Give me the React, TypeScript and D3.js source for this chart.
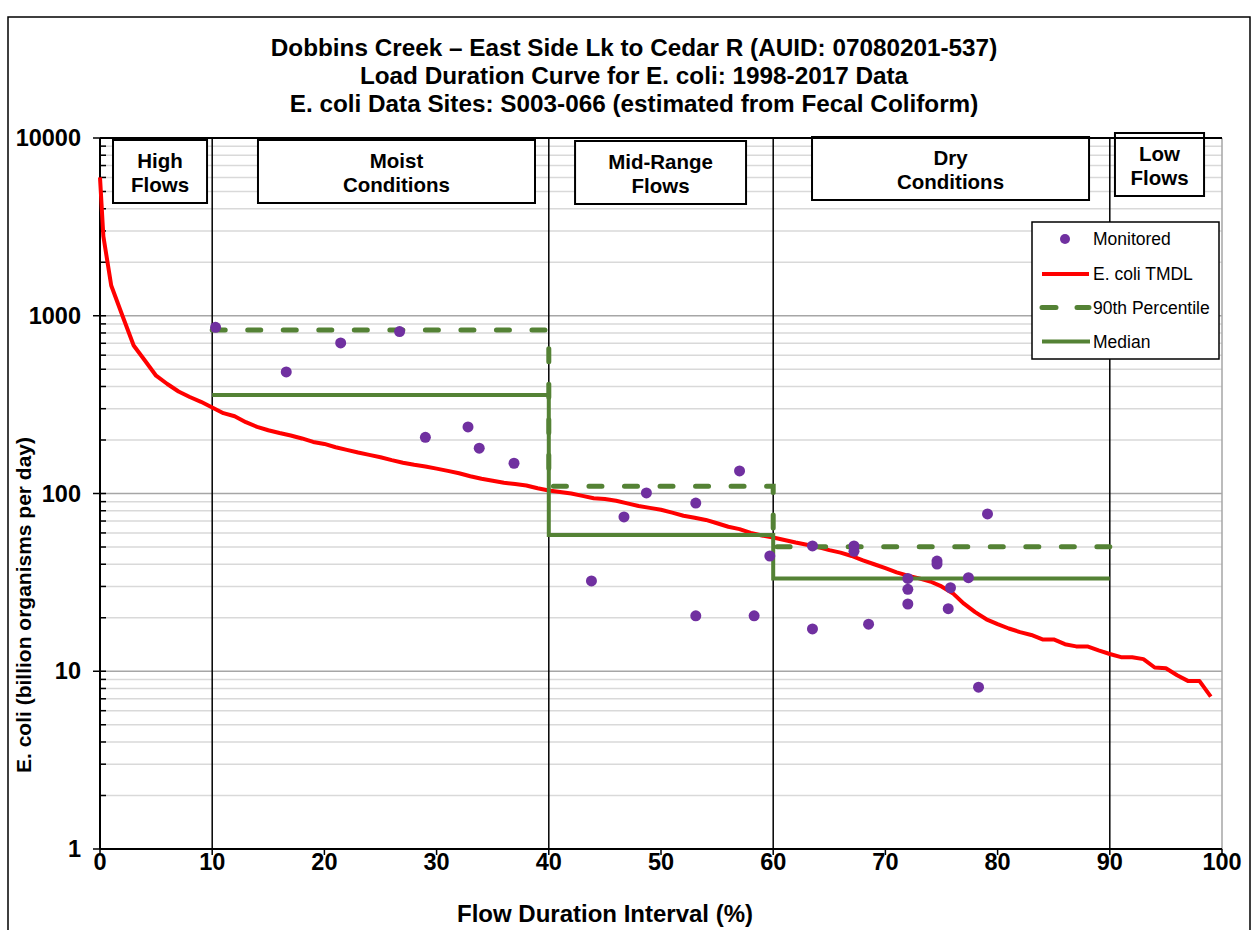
import React from "react";
import * as d3 from "d3";

const TITLE_LINES = [
  "Dobbins Creek \u2013 East Side Lk to Cedar R (AUID: 07080201-537)",
  "Load Duration Curve for E. coli: 1998-2017 Data",
  "E. coli Data Sites: S003-066 (estimated from Fecal Coliform)",
];
const X_LABEL = "Flow Duration Interval (%)";
const Y_LABEL = "E. coli (billion organisms per day)";
const X_TICKS = [0, 10, 20, 30, 40, 50, 60, 70, 80, 90, 100];
const Y_TICKS = [1, 10, 100, 1000, 10000];
const ZONE_LINES = [10, 40, 60, 90];

// TMDL curve
const TMDL_X = [0, 0.3, 1, 2, 3, 4, 5, 6, 7, 8, 9, 10, 11, 12, 13, 14, 15, 16, 17, 18, 19, 20,
  21, 22, 23, 24, 25, 26, 27, 28, 29, 30, 31, 32, 33, 34, 35, 36, 37, 38, 39, 40,
  41, 42, 43, 44, 45, 46, 47, 48, 49, 50, 51, 52, 53, 54, 55, 56, 57, 58, 59, 60,
  61, 62, 63, 64, 65, 66, 67, 68, 69, 70, 71, 72, 73, 74, 75, 76, 77, 78, 79, 80,
  81, 82, 83, 84, 85, 86, 87, 88, 89, 90, 91, 92, 93, 94, 95, 96, 97, 98, 99];
const TMDL_Y = [6000, 2800, 1480, 1000, 680, 560, 460, 413, 375, 349, 328, 305, 283, 272, 252, 237, 227, 219, 212, 204, 195, 190,
  182, 176, 170, 165, 160, 154, 149, 145, 142, 138, 134, 130, 125, 121, 118, 115, 113, 111, 107, 104,
  102, 100, 97, 94, 93, 91, 88, 85, 83, 81, 78, 75, 73, 71, 68, 65, 63, 60, 58, 56.5,
  54.8, 53, 51.5, 50, 48, 46.5, 44.5, 42, 40, 38, 36, 34.5, 33.3, 32, 30, 27.5, 24, 21.5, 19.6, 18.4,
  17.4, 16.6, 16, 15.1, 15.1, 14.2, 13.8, 13.8, 13.1, 12.5, 12.0, 12.0, 11.7, 10.5, 10.4, 9.5, 8.8, 8.8, 7.2];

// Monitored data
const MON_X = [10.3, 16.6, 21.45, 26.7, 29.0, 32.8, 33.8, 36.9,
  43.8, 46.7, 48.7, 53.1, 53.1, 57.0, 58.3, 59.7,
  63.5, 63.5, 67.2, 67.2, 68.5, 72.0, 72.0, 72.0, 74.6, 74.6, 75.8, 75.6, 77.4, 79.1, 78.3];
const MON_Y = [861, 483, 703, 815, 207, 237, 180, 148,
  32.2, 73.8, 100.7, 88.4, 20.5, 134, 20.5, 44.5,
  50.7, 17.3, 50.7, 47.3, 18.4, 33.3, 28.9, 23.9, 41.7, 40.1, 29.5, 22.5, 33.6, 76.7, 8.13];

// Percentile steps per zone
const ZONE_START = [10, 40, 60];
const ZONE_END = [40, 60, 90];
const P90 = [832, 110, 50.2];
const MEDIAN = [358, 58.4, 33.3];

// Zone labels
const ZONE_LABELS = [
  ["High", "Flows"],
  ["Moist", "Conditions"],
  ["Mid-Range", "Flows"],
  ["Dry", "Conditions"],
  ["Low", "Flows"],
];
const ZONE_BOX_X0 = [1.16, 14.08, 42.34, 63.46, 90.46];
const ZONE_BOX_X1 = [9.54, 38.77, 57.58, 88.15, 98.4];
const ZONE_BOX_TOP = [140, 140, 141, 137, 133];
const ZONE_BOX_H = 63;

const LEGEND_LABELS = ["Monitored", "E. coli TMDL", "90th Percentile", "Median"];

const RED = "#FF0000";
const GREEN = "#548235";
const PURPLE = "#7030A0";
const FONT = "Liberation Sans, Arial, sans-serif";

export default function App() {
  const W = 1255, H = 930;
  const x = d3.scaleLinear().domain([0, 100]).range([100, 1222]);
  const y = d3.scaleLog().domain([1, 10000]).range([849, 138]);

  const gridVals: { v: number; major: boolean }[] = [];
  for (const dec of [1, 10, 100, 1000]) {
    for (let m = 1; m <= 9; m++) {
      const v = dec * m;
      if (v === 1) continue;
      gridVals.push({ v, major: m === 1 });
    }
  }

  const line = d3.line<[number, number]>().x(d => x(d[0])).y(d => y(d[1]));
  const tmdlPath = line(TMDL_X.map((v, i) => [v, TMDL_Y[i]] as [number, number]));

  const stepPts = (vals: number[]) => {
    const pts: [number, number][] = [];
    vals.forEach((v, i) => {
      pts.push([ZONE_START[i], v]);
      pts.push([ZONE_END[i], v]);
    });
    return pts;
  };
  const p90Pts = stepPts(P90);
  const p90Path = line(p90Pts);
  const medPath = line(stepPts(MEDIAN));
  // fit the dash period so the last dash ends at the end of the path
  let p90Len = 0;
  for (let i = 1; i < p90Pts.length; i++) {
    p90Len += Math.hypot(x(p90Pts[i][0]) - x(p90Pts[i - 1][0]), y(p90Pts[i][1]) - y(p90Pts[i - 1][1]));
  }
  const dashOn = 13;
  const nPer = Math.round((p90Len - dashOn) / 35);
  const dashOff = (p90Len - dashOn) / nPer - dashOn;

  const legX = 1032, legY = 222, legW = 187, legH = 137;
  const legRowY = [239, 274, 307.5, 341.5];

  return (
    <svg width={W} height={H} style={{ position: "absolute", left: 0, top: 0, background: "#fff" }}
      fontFamily={FONT}>
      <rect x={0} y={0} width={W} height={H} fill="#fff" />
      {/* outer frame */}
      <rect x={8} y={17} width={1242} height={930} fill="none" stroke="#000" strokeWidth={1.5} />

      {/* title */}
      {TITLE_LINES.map((t, i) => (
        <text key={i} x={634} y={47 + i * 28} textAnchor="middle" dominantBaseline="central"
          fontWeight="bold" fontSize={24.3} fill="#000">{t}</text>
      ))}

      {/* gridlines */}
      {gridVals.map((g, i) => (
        <line key={i} x1={x(0)} x2={x(100)} y1={y(g.v)} y2={y(g.v)}
          stroke={g.major ? "#a6a6a6" : "#d9d9d9"} strokeWidth={1.5} />
      ))}
      {/* right border */}
      <line x1={x(100)} x2={x(100)} y1={y(10000)} y2={y(1)} stroke="#a6a6a6" strokeWidth={1.5} />

      {/* zone dividers */}
      {ZONE_LINES.map((z, i) => (
        <line key={i} x1={x(z)} x2={x(z)} y1={y(10000)} y2={y(1)} stroke="#000" strokeWidth={1.5} />
      ))}

      {/* zone label boxes */}
      {ZONE_LABELS.map((lab, i) => {
        const x0 = x(ZONE_BOX_X0[i]), x1 = x(ZONE_BOX_X1[i]);
        const top = ZONE_BOX_TOP[i];
        return (
          <g key={i}>
            <rect x={x0} y={top} width={x1 - x0} height={ZONE_BOX_H} fill="#fff" stroke="#000" strokeWidth={2} />
            {lab.map((l, j) => (
              <text key={j} x={(x0 + x1) / 2} y={top + 20 + j * 24} textAnchor="middle"
                dominantBaseline="central" fontWeight="bold" fontSize={20.5} fill="#000">{l}</text>
            ))}
          </g>
        );
      })}

      {/* axes */}
      <line x1={x(0)} x2={x(100)} y1={y(10000)} y2={y(10000)} stroke="#000" strokeWidth={2} />
      <line x1={x(0)} x2={x(100)} y1={y(1)} y2={y(1)} stroke="#000" strokeWidth={2} />
      <line x1={x(0)} x2={x(0)} y1={y(10000)} y2={y(1)} stroke="#000" strokeWidth={2} />
      {gridVals.filter(g => !g.major).map((g, i) => (
        <line key={i} x1={x(0)} x2={x(0) + 6} y1={y(g.v)} y2={y(g.v)} stroke="#000" strokeWidth={1.5} />
      ))}
      {Y_TICKS.map((t, i) => (
        <g key={i}>
          <line x1={x(0) - 7} x2={x(0) + 6} y1={y(t)} y2={y(t)} stroke="#000" strokeWidth={1.5} />
          <text x={81} y={y(t)} textAnchor="end" dominantBaseline="central" fontWeight="bold"
            fontSize={23.5} fill="#000">{t}</text>
        </g>
      ))}
      {X_TICKS.map((t, i) => (
        <g key={i}>
          <line x1={x(t)} x2={x(t)} y1={y(1)} y2={y(1) + 6} stroke="#000" strokeWidth={1.5} />
          <text x={x(t)} y={862} textAnchor="middle" dominantBaseline="central" fontWeight="bold"
            fontSize={23.5} fill="#000">{t}</text>
        </g>
      ))}
      <text x={605} y={913} textAnchor="middle" dominantBaseline="central" fontWeight="bold"
        fontSize={24} fill="#000">{X_LABEL}</text>
      <text transform={`translate(23,605) rotate(-90)`} textAnchor="middle" dominantBaseline="central"
        fontWeight="bold" fontSize={21} fill="#000">{Y_LABEL}</text>

      {/* series */}
      <path d={tmdlPath || ""} fill="none" stroke={RED} strokeWidth={4} strokeLinejoin="round" />
      <path d={medPath || ""} fill="none" stroke={GREEN} strokeWidth={4} strokeLinejoin="miter" />
      <path d={p90Path || ""} fill="none" stroke={GREEN} strokeWidth={5}
        strokeDasharray={`${dashOn} ${dashOff.toFixed(2)}`} strokeLinecap="round" />
      {MON_X.map((v, i) => (
        <circle key={i} cx={x(v)} cy={y(MON_Y[i])} r={5.5} fill={PURPLE} />
      ))}

      {/* legend */}
      <rect x={legX} y={legY} width={legW} height={legH} fill="#fff" stroke="#000" strokeWidth={1.5} />
      <circle cx={1065} cy={legRowY[0]} r={5} fill={PURPLE} />
      <line x1={1042} x2={1089} y1={legRowY[1]} y2={legRowY[1]} stroke={RED} strokeWidth={4} />
      <line x1={1042} x2={1089} y1={legRowY[2]} y2={legRowY[2]} stroke={GREEN} strokeWidth={5}
        strokeDasharray="14 21" strokeLinecap="round" />
      <line x1={1042} x2={1090} y1={legRowY[3]} y2={legRowY[3]} stroke={GREEN} strokeWidth={4} />
      {LEGEND_LABELS.map((l, i) => (
        <text key={i} x={1093} y={legRowY[i]} dominantBaseline="central" fontSize={17.5} fill="#000">{l}</text>
      ))}
    </svg>
  );
}
